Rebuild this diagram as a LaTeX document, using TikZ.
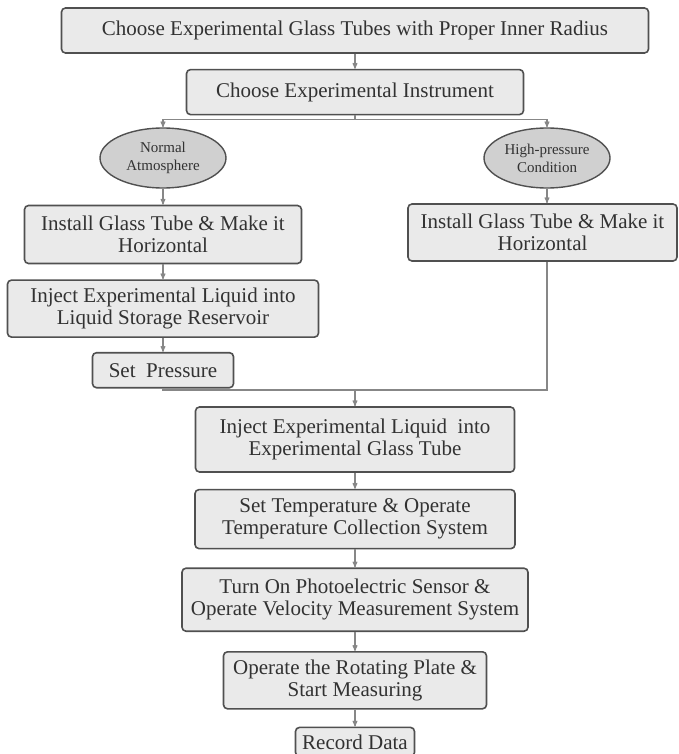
\documentclass[tikz,border=0pt]{standalone}
\usepackage{fontspec}
\setmainfont{Liberation Serif}
\usetikzlibrary{arrows,positioning,shapes.geometric}
\definecolor{boxfill}{RGB}{234,234,234}
\definecolor{ovalfill}{RGB}{208,208,208}
\definecolor{rimgray}{RGB}{80,80,80}
\definecolor{linegray}{RGB}{135,135,135}
\definecolor{textgray}{RGB}{50,50,50}

\begin{document}
\begin{tikzpicture}[x=1pt,y=-1pt,>=stealth',node distance=16pt,
		step node/.style={rectangle,rounded corners=4pt,draw=rimgray,line width=1.6pt,
			fill=boxfill,text=textgray,align=center,inner sep=2pt,
			font=\fontsize{21}{22}\selectfont},
		cond node/.style={ellipse,draw=rimgray,line width=1.4pt,fill=ovalfill,
			text=textgray,align=center,inner sep=0pt,minimum width=126pt,
			minimum height=60pt,font=\fontsize{15}{18}\selectfont},
		link/.style={draw=linegray,line width=1.1pt},
		flow/.style={link,->}]
		
		\useasboundingbox (0,0) rectangle (678,754);
		
		\node[step node,minimum width=587pt,minimum height=45pt] (tubes) at (355,30.5) {Choose Experimental Glass Tubes with Proper Inner Radius};
		\node[step node,minimum width=337pt,minimum height=45pt,below=15pt of tubes] (instr) {Choose Experimental Instrument};
		\node[cond node] (normal) at (163,158) {Normal\\Atmosphere};
		\node[cond node] (highp) at (547,158) {High-pressure\\Condition};
		
		% normal atmosphere branch
		\node[step node,minimum width=277pt,minimum height=58pt,below=16pt of normal] (installL) {Install Glass Tube \& Make it\\Horizontal};
		\node[step node,minimum width=311pt,minimum height=57pt,below=15pt of installL] (injectL) {Inject Experimental Liquid into\\Liquid Storage Reservoir};
		\node[step node,minimum width=141pt,minimum height=35pt,below=14pt of injectL] (pressure) {Set~~Pressure};
		
		% high-pressure branch
		\node[step node,minimum width=269pt,minimum height=57pt] (installR) at (542.5,232.5) {Install Glass Tube \& Make it\\Horizontal};
		
		% common steps
		\coordinate (join) at (355,390);
		\node[step node,minimum width=319pt,minimum height=65pt] (injectC) at (355,439.5) {Inject Experimental Liquid~~into\\Experimental Glass Tube};
		\node[step node,minimum width=320pt,minimum height=59pt,below=of injectC] (temp) {Set Temperature \& Operate\\Temperature Collection System};
		\node[step node,minimum width=346pt,minimum height=63pt,below=18pt of temp] (sensor) {Turn On Photoelectric Sensor \&\\Operate Velocity Measurement System};
		\node[step node,minimum width=263pt,minimum height=57pt,below=19pt of sensor] (rotate) {Operate the Rotating Plate \&\\Start Measuring};
		\node[step node,minimum width=119pt,minimum height=29pt,below=17pt of rotate] (record) {Record Data};
		
		\draw[flow] (tubes) -- (instr);
		\draw[link] (instr.south) -- ++(0,4) coordinate (split);
		\draw[flow] (split) -| (normal.north);
		\draw[flow] (split) -| (highp.north);
		\draw[flow] (normal) -- (installL);
		\draw[flow] (highp) -- (highp |- installR.north);
		\draw[flow] (installL) -- (injectL);
		\draw[flow] (injectL) -- (pressure);
		\draw[link] (pressure.south) |- (join);
		\draw[link] (highp |- installR.south) |- (join);
		\draw[flow] (join) -- (injectC);
		\draw[flow] (injectC) -- (temp);
		\draw[flow] (temp) -- (sensor);
		\draw[flow] (sensor) -- (rotate);
		\draw[flow] (rotate) -- (record);
		
\end{tikzpicture}
\end{document}
